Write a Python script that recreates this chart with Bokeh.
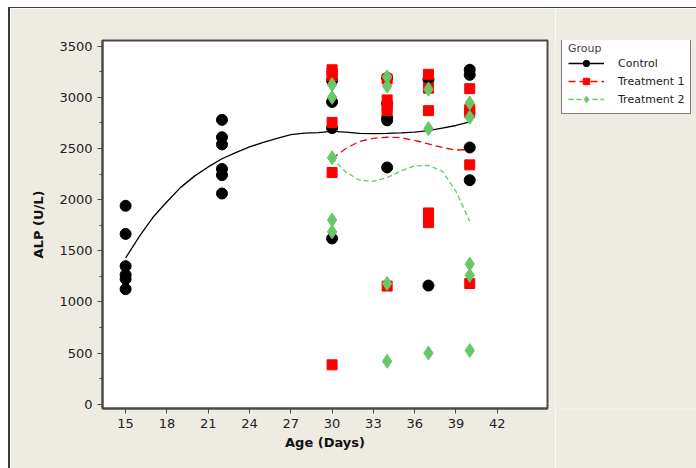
from bokeh.plotting import figure
from bokeh.models import Legend, LegendItem, FixedTicker, Range1d
from bokeh.layouts import row
from bokeh.embed import file_html
from bokeh.resources import INLINE

# ---- data ----
ctrl_x = [15]*6 + [22]*6 + [30]*4 + [34]*5 + [37]*2 + [40]*4
ctrl_y = [1940, 1665, 1350, 1265, 1225, 1125,
          2780, 2610, 2540, 2300, 2240, 2060,
          3165, 2955, 2700, 1620,
          3190, 2940, 2800, 2775, 2315,
          3175, 1160,
          3270, 3220, 2510, 2190]

t1_x = [30]*6 + [34]*5 + [37]*5 + [40]*5
t1_y = [3270, 3240, 3210, 2755, 2265, 385,
        3180, 2975, 2900, 2870, 1155,
        3225, 3090, 2870, 1870, 1775,
        3085, 2880, 2850, 2340, 1180]

t2_x = [30]*5 + [34]*4 + [37]*3 + [40]*5
t2_y = [3125, 3000, 2410, 1800, 1685,
        3200, 3110, 1180, 420,
        3080, 2695, 500,
        2945, 2805, 1370, 1260, 525]

# smoothed fit lines
ctrl_fit_x = list(range(15, 41))
ctrl_fit_y = [1430, 1640, 1830, 1980, 2120, 2230, 2320, 2400, 2460, 2515,
              2560, 2600, 2635, 2650, 2655, 2668, 2660, 2648, 2645, 2648,
              2652, 2660, 2675, 2700, 2725, 2760]
t1_fit_x = list(range(30, 41))
t1_fit_y = [2400, 2500, 2570, 2600, 2610, 2605, 2580, 2545, 2510, 2485, 2490]
t2_fit_x = list(range(30, 41))
t2_fit_y = [2410, 2270, 2190, 2180, 2215, 2280, 2330, 2335, 2280, 2080, 1790]

groups = ["Control", "Treatment 1", "Treatment 2"]
x_ticks = [15, 18, 21, 24, 27, 30, 33, 36, 39, 42]
y_ticks = [0, 500, 1000, 1500, 2000, 2500, 3000, 3500]

BG = "#EEEBE2"
GREEN = "#66C866"
FONT = "DejaVu Sans"

# ---- main plot ----
p = figure(width=547, height=461, output_backend="svg", toolbar_location=None,
           x_range=Range1d(13.32, 45.65), y_range=Range1d(-42, 3556),
           min_border_left=92, min_border_top=32, min_border_right=10,
           min_border_bottom=61)
p.styles = {"margin-left": "8px", "margin-top": "7px",
            "border-left": "2px solid #3a3a3a", "border-top": "1px solid #3a3a3a"}

p.background_fill_color = "white"
p.border_fill_color = BG
p.outline_line_color = "#4a4a4a"
p.outline_line_width = 2
p.grid.visible = False

for ax in (p.xaxis[0], p.yaxis[0]):
    ax.axis_line_color = "#4a4a4a"
    ax.axis_line_width = 2
    ax.major_tick_line_color = "#4a4a4a"
    ax.minor_tick_line_color = "#4a4a4a"
    ax.major_tick_in = 0
    ax.major_tick_out = 5
    ax.minor_tick_in = 0
    ax.minor_tick_out = 3
    ax.major_label_text_font = FONT
    ax.major_label_text_font_size = "13px"
    ax.major_label_text_color = "#222222"
    ax.axis_label_text_font = FONT
    ax.axis_label_text_font_size = "13px"
    ax.axis_label_text_font_style = "bold"
    ax.axis_label_text_color = "#111111"

p.xaxis.ticker = FixedTicker(ticks=x_ticks)
p.yaxis.ticker = FixedTicker(ticks=y_ticks,
                             minor_ticks=[v + 250 for v in y_ticks[:-1]])
p.xaxis.minor_tick_line_color = None
p.xaxis.axis_label = "Age (Days)"
p.yaxis.axis_label = "ALP (U/L)"
p.xaxis.axis_label_standoff = 4
p.yaxis.axis_label_standoff = 10

line_styles = [dict(line_color="black", line_width=1.3),
               dict(line_color="red", line_width=1.3, line_dash="7 4"),
               dict(line_color=GREEN, line_width=1.3, line_dash="5 3")]
marker_styles = [dict(marker="circle", size=11, fill_color="black", line_color="black"),
                 dict(marker="square", size=10, fill_color="red", line_color="red"),
                 dict(marker="diamond", size=14, fill_color=GREEN, line_color=GREEN)]

fits = [(ctrl_fit_x, ctrl_fit_y), (t1_fit_x, t1_fit_y), (t2_fit_x, t2_fit_y)]
pts = [(ctrl_x, ctrl_y), (t1_x, t1_y), (t2_x, t2_y)]

# fit lines, then points
for (fx, fy), ls in zip(fits, line_styles):
    p.line(fx, fy, **ls)
for (px, py), ms in zip(pts, marker_styles):
    p.scatter(px, py, **ms)

# ---- legend panel (separate, beige, no axes) ----
# same series are added here, outside this panel's view, so the legend can
# draw their glyphs.
q = figure(width=141, height=461, output_backend="svg", toolbar_location=None,
           x_range=Range1d(0, 1), y_range=Range1d(0, 1),
           x_axis_type=None, y_axis_type=None,
           min_border_left=0, min_border_right=0, min_border_top=0,
           min_border_bottom=0)
q.styles = {"margin-top": "7px", "border-top": "1px solid #3a3a3a"}
q.background_fill_color = BG
q.border_fill_color = BG
q.outline_line_color = None
q.grid.visible = False

items = []
for g, (fx, fy), (px, py), ls, ms in zip(groups, fits, pts, line_styles, marker_styles):
    lr = q.line(fx, fy, **ls)
    sr = q.scatter(px, py, **ms)
    items.append(LegendItem(label=g, renderers=[lr, sr]))

legend = Legend(items=items, location=(6, 294))
legend.title = "Group"
legend.title_text_font = FONT
legend.title_text_font_size = "11px"
legend.title_text_font_style = "normal"
legend.title_standoff = 0
legend.label_text_font = FONT
legend.label_text_font_size = "11px"
legend.label_text_color = "#222222"
legend.border_line_color = "black"
legend.border_line_width = 1
legend.background_fill_color = "white"
legend.background_fill_alpha = 1
legend.glyph_width = 36
legend.glyph_height = 16
legend.label_height = 16
legend.spacing = 2
legend.padding = 6
legend.margin = 0
legend.label_standoff = 14
q.add_layout(legend, "center")

layout = row(p, q)
open("out.html", "w").write(file_html(layout, INLINE))
